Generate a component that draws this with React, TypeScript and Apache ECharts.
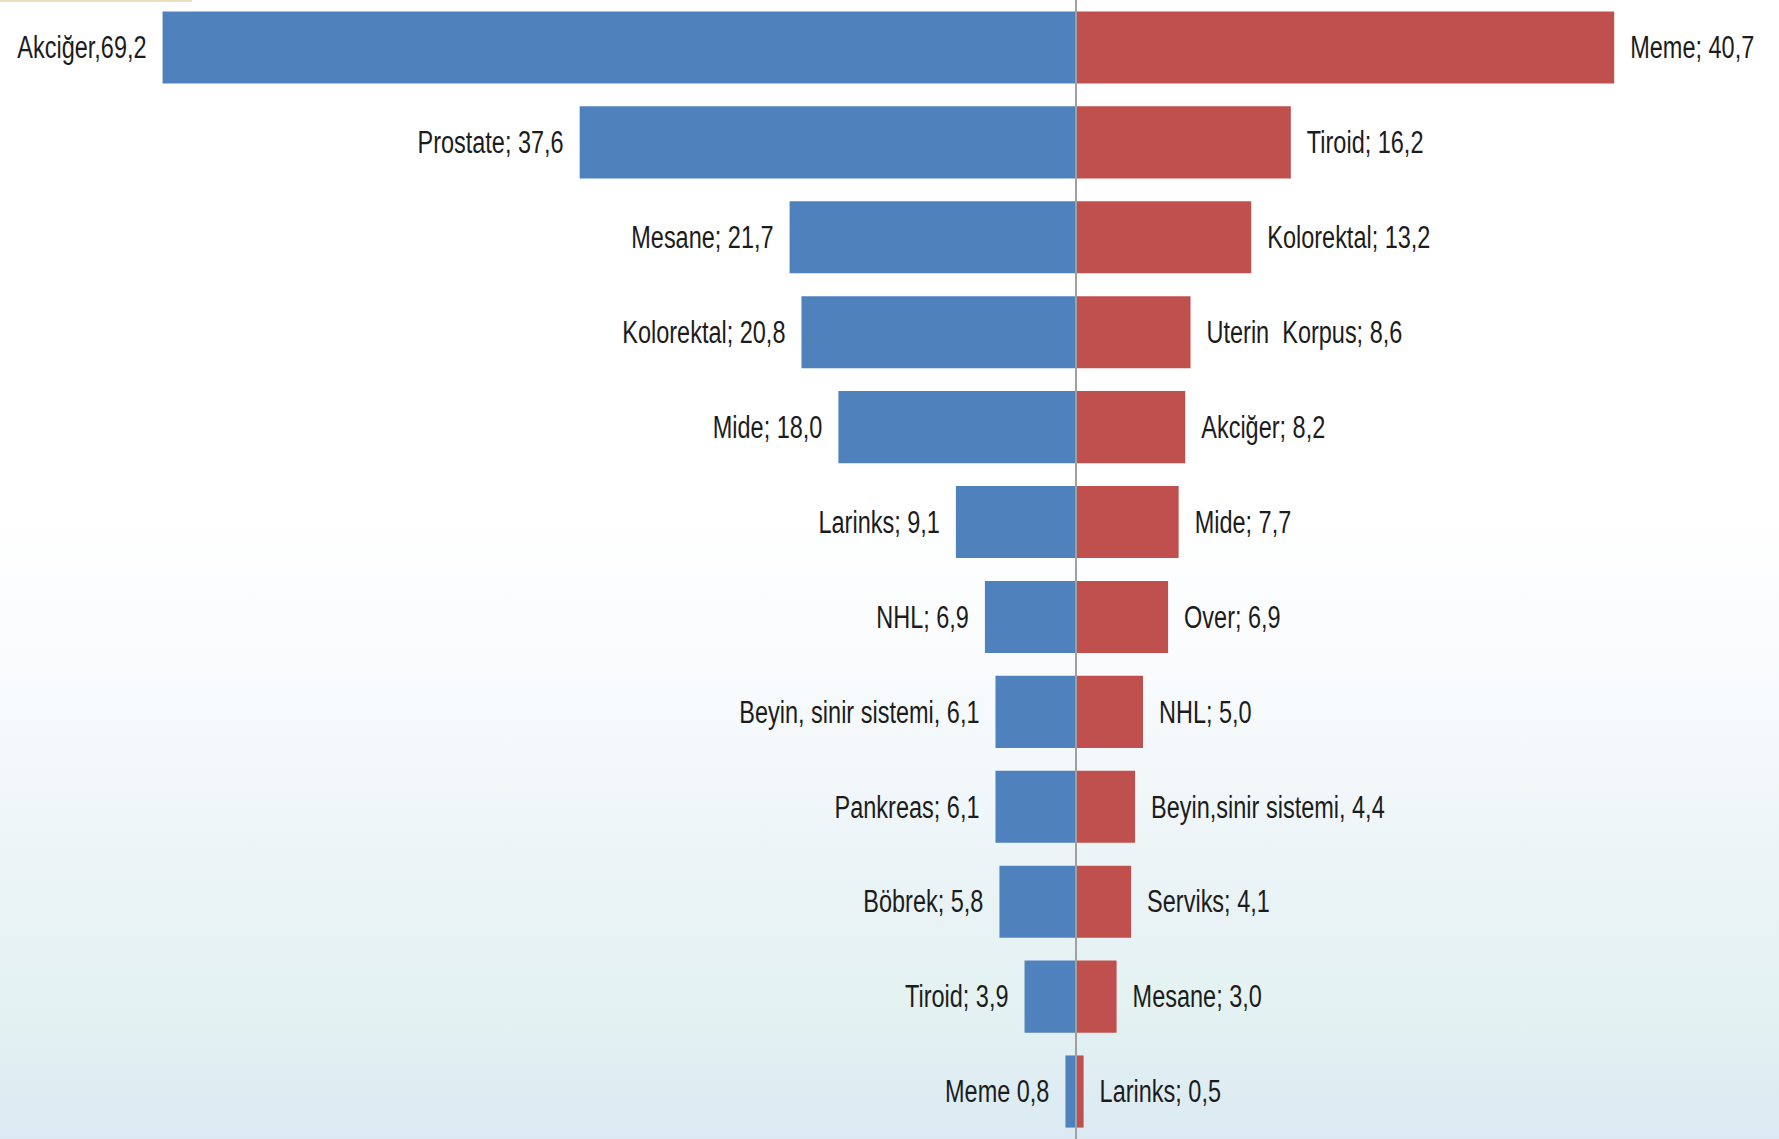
import React, { useEffect, useRef } from "react";
import * as echarts from "echarts";

// Male (left, blue)
const maleLabels = [
  "Akciğer,69,2",
  "Prostate; 37,6",
  "Mesane; 21,7",
  "Kolorektal; 20,8",
  "Mide; 18,0",
  "Larinks; 9,1",
  "NHL; 6,9",
  "Beyin, sinir sistemi, 6,1",
  "Pankreas; 6,1",
  "Böbrek; 5,8",
  "Tiroid; 3,9",
  "Meme 0,8",
];
const maleValues = [69.2, 37.6, 21.7, 20.8, 18.0, 9.1, 6.9, 6.1, 6.1, 5.8, 3.9, 0.8];

// Female (right, red)
const femaleLabels = [
  "Meme; 40,7",
  "Tiroid; 16,2",
  "Kolorektal; 13,2",
  "Uterin  Korpus; 8,6",
  "Akciğer; 8,2",
  "Mide; 7,7",
  "Over; 6,9",
  "NHL; 5,0",
  "Beyin,sinir sistemi, 4,4",
  "Serviks; 4,1",
  "Mesane; 3,0",
  "Larinks; 0,5",
];
const femaleValues = [40.7, 16.2, 13.2, 8.6, 8.2, 7.7, 6.9, 5.0, 4.4, 4.1, 3.0, 0.5];

const FONT = "'Liberation Sans', Arial, sans-serif";
const FONT_SIZE = 23.5;
const STRETCH_Y = 1.32;
const LABEL_GAP = 16;

export default function App() {
  const ref = useRef<HTMLDivElement>(null);
  useEffect(() => {
    if (!ref.current) return;
    const chart = echarts.init(ref.current, null, { renderer: "svg" });
    const beige = { type: "rect", left: 0, top: 0, shape: { width: 192, height: 2 }, style: { fill: "#eadfbf" }, z: 100 };
    chart.setOption({
      animation: false,
      backgroundColor: {
        type: "linear",
        x: 0, y: 0, x2: 0, y2: 1,
        colorStops: [
          { offset: 0, color: "#ffffff" },
          { offset: 0.45, color: "#ffffff" },
          { offset: 0.62, color: "#f7fafc" },
          { offset: 0.78, color: "#eaf3f6" },
          { offset: 0.88, color: "#e4f2f2" },
          { offset: 1, color: "#dbeaf2" },
        ],
      },
      graphic: [beige],
      grid: [
        { left: 152, width: 924, top: -1.5, height: 1146.6, containLabel: false },
        { left: 1077, width: 660, top: -4.1, height: 1146.6, containLabel: false },
      ],
      xAxis: [
        { gridIndex: 0, type: "value", min: 0, max: 70, inverse: true, show: false },
        { gridIndex: 1, type: "value", min: 0, max: 50, show: false },
      ],
      yAxis: [
        {
          gridIndex: 0,
          type: "category",
          data: maleLabels,
          inverse: true,
          position: "right",
          axisLine: { show: true, lineStyle: { color: "#a0a0a0", width: 2 } },
          axisTick: { show: false },
          axisLabel: { show: false },
          splitLine: { show: false },
          z: 10,
        },
        {
          gridIndex: 1,
          type: "category",
          data: femaleLabels,
          inverse: true,
          axisLine: { show: false },
          axisTick: { show: false },
          axisLabel: { show: false },
          splitLine: { show: false },
        },
      ],
      series: [
        {
          type: "bar",
          xAxisIndex: 0,
          yAxisIndex: 0,
          data: maleValues,
          barCategoryGap: "24%",
          itemStyle: { color: "#4f81bd" },
          z: 2,
        },
        {
          type: "bar",
          xAxisIndex: 1,
          yAxisIndex: 1,
          data: femaleValues,
          barCategoryGap: "24%",
          itemStyle: { color: "#c0504d" },
          z: 2,
        },
      ],
    });

    // Labels placed at the bar ends via the chart's own scales, stretched
    // vertically to mimic the condensed font of the original.
    const mkText = (text: string, pos: number[], align: "left" | "right") => ({
      type: "text",
      x: pos[0] + (align === "left" ? LABEL_GAP : -LABEL_GAP),
      y: pos[1],
      scaleY: STRETCH_Y,
      z: 50,
      silent: true,
      style: {
        text,
        fontFamily: FONT,
        fontSize: FONT_SIZE,
        fill: "#1c1c1c",
        align,
        verticalAlign: "middle",
      },
    });
    const texts: any[] = [];
    maleValues.forEach((v, i) => {
      const p = chart.convertToPixel({ gridIndex: 0 } as any, [v, i]) as number[];
      texts.push(mkText(maleLabels[i], p, "right"));
    });
    femaleValues.forEach((v, i) => {
      const p = chart.convertToPixel({ gridIndex: 1 } as any, [v, i]) as number[];
      texts.push(mkText(femaleLabels[i], p, "left"));
    });
    chart.setOption({ graphic: [beige, ...texts] });

    return () => chart.dispose();
  }, []);
  return (
    <div
      ref={ref}
      style={{ position: "fixed", left: 0, top: 0, width: 1779, height: 1139 }}
    />
  );
}
